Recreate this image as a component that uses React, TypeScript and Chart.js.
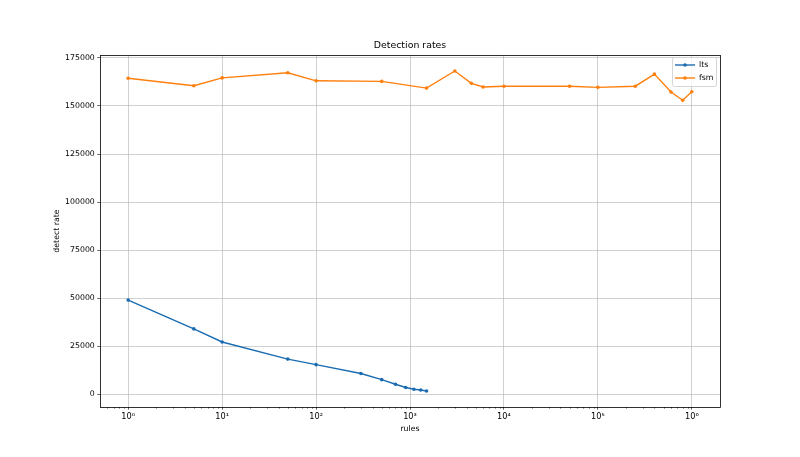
import { useEffect, useRef } from "react";
import { Chart, registerables } from "chart.js";

Chart.register(...registerables);

const ltsRules = [1, 5, 10, 50, 100, 300, 500, 700, 900, 1100, 1300, 1500];
const ltsRates = [49000, 34000, 27200, 18300, 15400, 10800, 7600, 5200, 3500, 2600, 2200, 1700];

const fsmRules = [1, 5, 10, 50, 100, 500, 1500, 3000, 4500, 6000, 10000, 50000, 100000, 250000, 400000, 600000, 800000, 1000000];
const fsmRates = [164400, 160500, 164600, 167300, 163100, 162800, 159300, 168200, 161800, 159900, 160300, 160300, 159700, 160300, 166600, 157300, 153000, 157400];

const yTicks = [0, 25000, 50000, 75000, 100000, 125000, 150000, 175000];
const xPowers = [0, 1, 2, 3, 4, 5, 6];
const SUP = ["⁰", "¹", "²", "³", "⁴", "⁵", "⁶"];

const BLUE = "#1a6cb2";
const ORANGE = "#ff7f0e";
const FONT = "DejaVu Sans";

const decor = {
  id: "decor",
  afterDraw(chart: any) {
    const { ctx, chartArea: a } = chart;
    const xs = chart.scales.x;
    ctx.save();

    // minor ticks on the log axis
    ctx.strokeStyle = "#000";
    ctx.lineWidth = 0.6;
    for (let p = -1; p <= 6; p++) {
      for (let m = 2; m <= 9; m++) {
        const v = m * Math.pow(10, p);
        if (v < xs.min || v > xs.max) continue;
        const px = Math.round(xs.getPixelForValue(v)) + 0.5;
        ctx.beginPath();
        ctx.moveTo(px, a.bottom);
        ctx.lineTo(px, a.bottom + 1.6);
        ctx.stroke();
      }
    }

    // frame
    ctx.lineWidth = 0.8;
    ctx.strokeStyle = "#000";
    ctx.strokeRect(Math.round(a.left) + 0.5, Math.round(a.top) + 0.5, Math.round(a.right - a.left), Math.round(a.bottom - a.top));

    // title and axis labels
    ctx.fillStyle = "#000";
    ctx.textAlign = "center";
    ctx.textBaseline = "middle";
    ctx.font = `9.4px '${FONT}'`;
    ctx.fillText("Detection rates", (a.left + a.right) / 2, 46);
    ctx.font = `7.8px '${FONT}'`;
    ctx.fillText("rules", (a.left + a.right) / 2, 429);
    ctx.save();
    ctx.translate(57, (a.top + a.bottom) / 2);
    ctx.rotate(-Math.PI / 2);
    ctx.fillText("detect rate", 0, 0);
    ctx.restore();

    // legend
    const bx = 672, by = 57, bw = 44, bh = 29;
    ctx.fillStyle = "rgba(255,255,255,0.8)";
    ctx.strokeStyle = "#cccccc";
    ctx.lineWidth = 0.8;
    ctx.beginPath();
    ctx.roundRect(bx + 0.5, by + 0.5, bw, bh, 2);
    ctx.fill();
    ctx.stroke();
    chart.data.datasets.forEach((ds: any, i: number) => {
      const ly = 65 + i * 13;
      ctx.strokeStyle = ds.borderColor;
      ctx.lineWidth = 1.4;
      ctx.beginPath();
      ctx.moveTo(675, ly);
      ctx.lineTo(695, ly);
      ctx.stroke();
      ctx.fillStyle = ds.borderColor;
      ctx.beginPath();
      ctx.arc(685, ly, 1.8, 0, Math.PI * 2);
      ctx.fill();
      ctx.fillStyle = "#000";
      ctx.textAlign = "left";
      ctx.font = `7.8px '${FONT}'`;
      ctx.fillText(ds.label, 699, ly);
    });
    ctx.restore();
  },
};

export default function App() {
  const canvasRef = useRef<HTMLCanvasElement | null>(null);
  const chartRef = useRef<Chart | null>(null);

  useEffect(() => {
    if (!canvasRef.current) return;
    const ctx = canvasRef.current.getContext("2d");
    if (!ctx) return;
    chartRef.current?.destroy();

    Chart.defaults.font.family = FONT;

    chartRef.current = new Chart(ctx, {
      type: "line",
      data: {
        datasets: [
          {
            label: "lts",
            data: ltsRules.map((r, i) => ({ x: r, y: ltsRates[i] })),
            borderColor: BLUE,
            backgroundColor: BLUE,
            borderWidth: 1.4,
            pointRadius: 1.8,
            pointBorderWidth: 0,
            tension: 0,
          },
          {
            label: "fsm",
            data: fsmRules.map((r, i) => ({ x: r, y: fsmRates[i] })),
            borderColor: ORANGE,
            backgroundColor: ORANGE,
            borderWidth: 1.4,
            pointRadius: 1.8,
            pointBorderWidth: 0,
            tension: 0,
          },
        ],
      },
      options: {
        animation: false,
        responsive: true,
        maintainAspectRatio: false,
        layout: { padding: { left: 0, right: 80, top: 55, bottom: 0 } },
        scales: {
          x: {
            type: "logarithmic",
            min: Math.pow(10, -0.3),
            max: Math.pow(10, 6.3),
            afterFit: (s: any) => {
              s.height = 50;
            },
            afterBuildTicks: (s: any) => {
              s.ticks = xPowers.map((p) => ({ value: Math.pow(10, p) }));
            },
            ticks: {
              color: "#000",
              font: { size: 8.2 },
              padding: 2.5,
              maxRotation: 0,
              autoSkip: false,
              callback: (v: any) => "10" + SUP[Math.round(Math.log10(Number(v)))],
            },
            grid: { color: "#b0b0b0", lineWidth: 0.6, tickColor: "#000", tickLength: 2.7 },
            border: { display: false },
          },
          y: {
            type: "linear",
            min: -6625,
            max: 176525,
            afterFit: (s: any) => {
              s.width = 100;
            },
            afterBuildTicks: (s: any) => {
              s.ticks = yTicks.map((v) => ({ value: v }));
            },
            ticks: {
              color: "#000",
              font: { size: 7.8 },
              padding: 2.5,
              callback: (v: any) => String(v),
            },
            grid: { color: "#b0b0b0", lineWidth: 0.6, tickColor: "#000", tickLength: 2.7 },
            border: { display: false },
          },
        },
        plugins: {
          legend: { display: false },
          title: { display: false },
          tooltip: { enabled: false },
        },
      },
      plugins: [decor],
    });

    return () => {
      chartRef.current?.destroy();
    };
  }, []);

  return (
    <div style={{ position: "fixed", left: 0, top: 0, width: 800, height: 457, background: "#fff" }}>
      <canvas ref={canvasRef}></canvas>
    </div>
  );
}
